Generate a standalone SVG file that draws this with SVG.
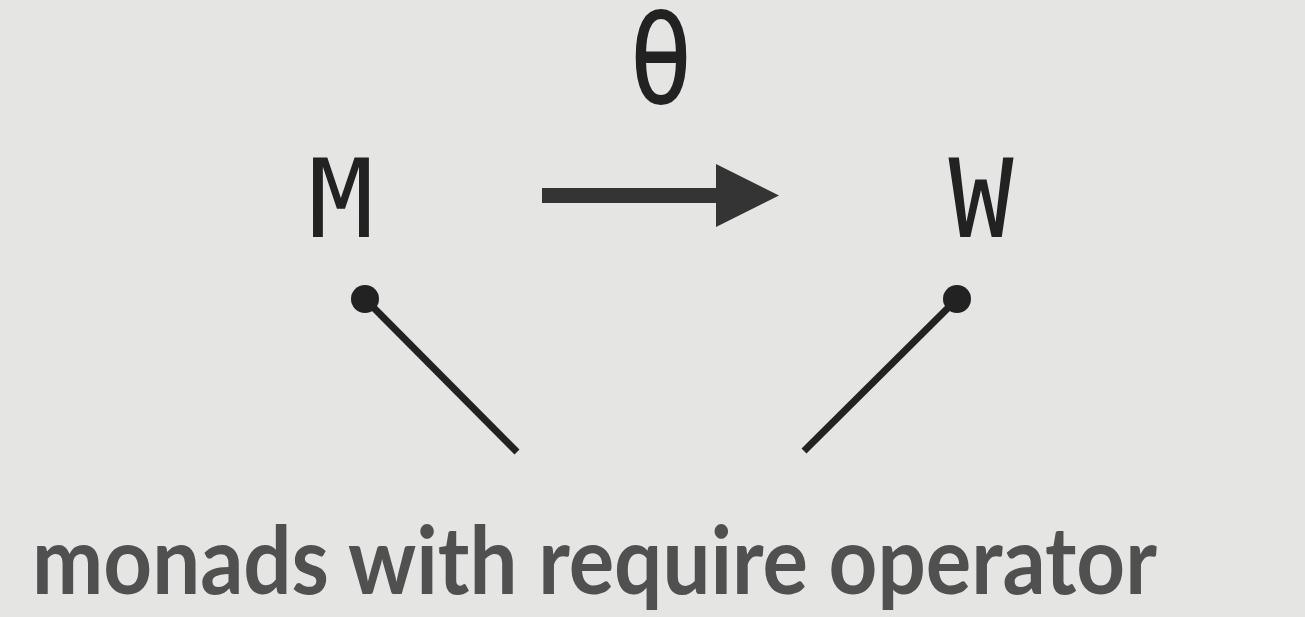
<svg xmlns="http://www.w3.org/2000/svg" width="1305" height="617" viewBox="0 0 1305 617">
<style>
.mono{font-family:"DejaVu Sans Mono",monospace;font-size:108px;fill:#222222;text-anchor:middle}
.cap{font-family:Lato,"Liberation Sans",sans-serif;font-weight:700;font-size:94px;fill:#4f504f}
.ln{stroke:#222222;stroke-width:7;fill:none}
</style>
<rect width="1305" height="617" fill="#e5e6e3"/>
<g id="theta"><text class="mono" x="661" y="103" transform="translate(0 103) scale(1 1.18) translate(0 -103)">θ</text></g>
<g id="M"><text class="mono" x="341" y="237">M</text></g>
<g id="W"><text class="mono" x="981" y="237">W</text></g>
<g id="connectors">
<path d="M542 188H716V164L779 195.5L716 227V203H542Z" fill="#333433"/>
<line class="ln" x1="365" y1="299" x2="517" y2="452"/>
<circle cx="365" cy="299" r="14" fill="#222222"/>
<line class="ln" x1="957" y1="299" x2="804" y2="451"/>
<circle cx="957" cy="299" r="14" fill="#222222"/>
</g>
<g id="caption"><text class="cap" x="32" y="594" textLength="1125" lengthAdjust="spacingAndGlyphs">monads with require operator</text></g>
</svg>
